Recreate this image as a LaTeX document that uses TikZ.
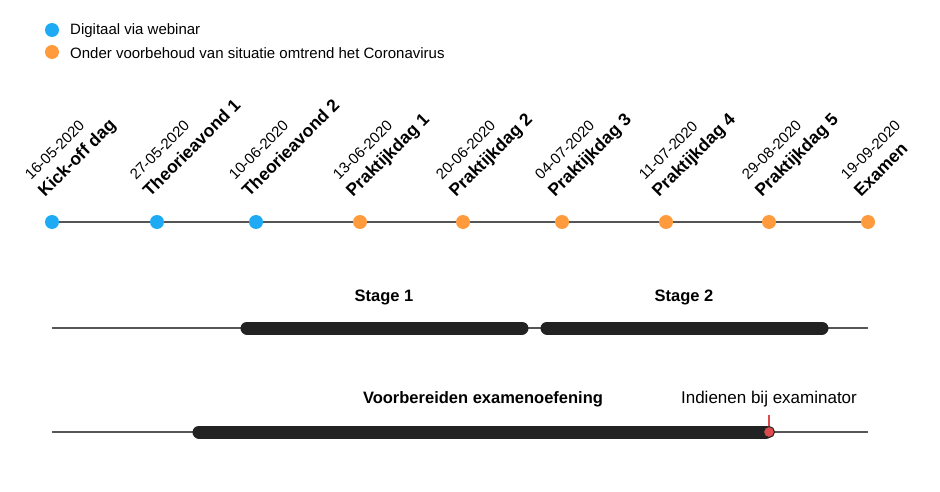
\documentclass[tikz,border=0pt]{standalone}
\usepackage{fontspec}
\setmainfont{Liberation Sans}
\definecolor{cblue}{HTML}{1EAAF5}
\definecolor{corange}{HTML}{FF9B3D}
\definecolor{cline}{HTML}{555555}
\definecolor{cbar}{HTML}{222222}
\definecolor{cred}{HTML}{DE4A4F}
\begin{document}
\begin{tikzpicture}[x=1pt,y=-1pt,
  bluedot/.style={circle,fill=cblue,inner sep=0pt,minimum size=14pt},
  orangedot/.style={circle,fill=corange,inner sep=0pt,minimum size=14pt},
  thinline/.style={draw=cline,line width=1.8pt},
  thickbar/.style={draw=cbar,line width=13pt,line cap=round},
  datelbl/.style={anchor=base west,inner sep=0pt,rotate=45,font=\fontsize{15}{18}\selectfont},
  namelbl/.style={anchor=base west,inner sep=0pt,rotate=45,font=\fontsize{17.5}{20}\selectfont\bfseries},
  legtxt/.style={anchor=west,inner sep=0pt,font=\fontsize{15}{18}\selectfont},
  boldlbl/.style={inner sep=0pt,font=\fontsize{16.5}{20}\selectfont\bfseries}]
\useasboundingbox[fill=white] (0,0) rectangle (940,492);
% legend
\node[bluedot] (lb) at (52,30) {};
\node[legtxt] (lbt) at (70,31) {Digitaal via webinar};
\node[orangedot] (lo) at (52,52) {};
\node[legtxt] (lot) at (70,53) {Onder voorbehoud van situatie omtrend het Coronavirus};
% timeline
\coordinate (d1) at (52,222);
\coordinate (d9) at (868,222);
\draw[thinline] (d1) -- (d9);
\foreach \i/\x/\s/\d/\n in {1/52/bluedot/16-05-2020/Kick-off dag,
  2/157/bluedot/27-05-2020/Theorieavond 1,
  3/256/bluedot/10-06-2020/Theorieavond 2,
  4/360/orangedot/13-06-2020/Praktijkdag 1,
  5/463/orangedot/20-06-2020/Praktijkdag 2,
  6/562/orangedot/04-07-2020/Praktijkdag 3,
  7/666/orangedot/11-07-2020/Praktijkdag 4,
  8/769/orangedot/29-08-2020/Praktijkdag 5,
  9/868/orangedot/19-09-2020/Examen}{
  \node[\s] (p\i) at (\x,222) {};
  \node[datelbl] (dt\i) at (\x-21,181) {\d};
  \node[namelbl] (nm\i) at (\x-7,198) {\n};
}
% stages
\coordinate (s0) at (52,328);
\coordinate (s9) at (868,328);
\draw[thinline] (s0) -- (s9);
\coordinate (s1a) at (247,328);
\coordinate (s1b) at (522,328);
\coordinate (s2a) at (547,328);
\coordinate (s2b) at (822,328);
\draw[thickbar] (s1a) -- (s1b);
\draw[thickbar] (s2a) -- (s2b);
\node[boldlbl] (st1) at (384,297) {Stage 1};
\node[boldlbl] (st2) at (684,297) {Stage 2};
% exam prep
\coordinate (e0) at (52,432);
\coordinate (e9) at (868,432);
\draw[thinline] (e0) -- (e9);
\coordinate (ea) at (199,432);
\coordinate (eb) at (766,432);
\draw[thickbar] (ea) -- (eb);
\node[boldlbl] (vb) at (483,399) {Voorbereiden examenoefening};
\node[inner sep=0pt,font=\fontsize{17}{20}\selectfont] (ind) at (769,399) {Indienen bij examinator};
\node[circle,fill=cred,draw=cbar,line width=1pt,inner sep=0pt,minimum size=11pt] (rd) at (769,432) {};
\coordinate (rt) at (769,415);
\draw[cred,line width=1.2pt] (rt) -- (rd.north);
\end{tikzpicture}
\end{document}
